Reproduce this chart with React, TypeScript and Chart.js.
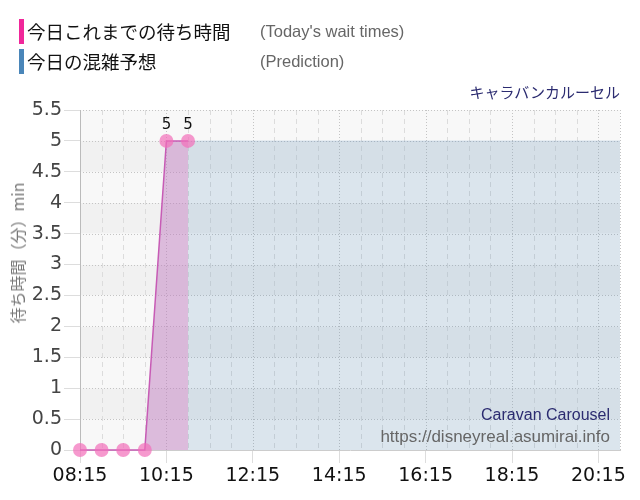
import React, { useEffect, useRef } from "react";
import { Chart, registerables } from "chart.js";
Chart.register(...registerables);

// ---- data ----
const waitTimes = ["08:15", "08:45", "09:15", "09:45", "10:15", "10:45"];
const waitValues = [0, 0, 0, 0, 5, 5];
const predictionTimes = ["10:45", "12:45", "14:45", "16:45", "18:45", "20:45"];
const predictionValues = [5, 5, 5, 5, 5, 5];
const xTickLabels = ["08:15", "10:15", "12:15", "14:15", "16:15", "18:15", "20:15"];
const xRange = ["08:15", "20:45"];
const yMax = 5.5;
const yStep = 0.5;

const toMin = (s: string) => {
  const [h, m] = s.split(":").map(Number);
  return h * 60 + m;
};
const fmt = (v: number) => {
  const h = Math.floor(v / 60);
  const m = v % 60;
  return String(h).padStart(2, "0") + ":" + String(m).padStart(2, "0");
};

const bgPlugin = {
  id: "bgGrid",
  beforeDraw(chart: any) {
    const { ctx, chartArea: a, scales } = chart;
    const y = scales.y;
    const x = scales.x;
    ctx.save();
    // bands
    for (let v = 0, i = 0; v < yMax - 1e-9; v += yStep, i++) {
      const top = y.getPixelForValue(v + yStep);
      const bot = y.getPixelForValue(v);
      ctx.fillStyle = i % 2 === 0 ? "#f8f8f8" : "#f1f1f1";
      ctx.fillRect(a.left, top, a.right - a.left, bot - top);
    }
    // vertical minor gridlines (every 30 min)
    const x0 = toMin(xRange[0]);
    const x1 = toMin(xRange[1]);
    const majors = xTickLabels.map(toMin);
    ctx.lineWidth = 1;
    for (let v = x0 + 30; v <= x1; v += 30) {
      const px = Math.round(x.getPixelForValue(v)) + 0.5;
      const isMajor = majors.includes(v) || v === x1;
      ctx.strokeStyle = isMajor ? "#c4c4c4" : "#dcdcdc";
      ctx.setLineDash(isMajor ? [1, 2] : [5, 4]);
      ctx.beginPath();
      ctx.moveTo(px, a.top);
      ctx.lineTo(px, a.bottom);
      ctx.stroke();
    }
    // horizontal dotted gridlines
    ctx.strokeStyle = "#c4c4c4";
    ctx.setLineDash([1, 2]);
    for (let v = yStep; v <= yMax + 1e-9; v += yStep) {
      const py = Math.round(y.getPixelForValue(v)) + 0.5;
      ctx.beginPath();
      ctx.moveTo(a.left, py);
      ctx.lineTo(a.right, py);
      ctx.stroke();
    }
    ctx.restore();
  },
};

const labelPlugin = {
  id: "valLabels",
  afterDatasetsDraw(chart: any) {
    const { ctx } = chart;
    const meta = chart.getDatasetMeta(0);
    ctx.save();
    ctx.font = "15px 'DejaVu Sans'";
    ctx.fillStyle = "#111";
    ctx.textAlign = "center";
    ctx.textBaseline = "alphabetic";
    meta.data.forEach((pt: any, i: number) => {
      const v = waitValues[i];
      if (v > 0) ctx.fillText(String(v), pt.x, pt.y - 12);
    });
    ctx.restore();
  },
};

export default function App() {
  const ref = useRef<HTMLCanvasElement>(null);
  useEffect(() => {
    document.body.style.margin = "0";
    const chart = new Chart(ref.current!, {
      type: "line",
      data: {
        datasets: [
          {
            label: "今日これまでの待ち時間",
            data: waitTimes.map((t, i) => ({ x: toMin(t), y: waitValues[i] })),
            borderColor: "#c75bb5",
            borderWidth: 1.5,
            backgroundColor: "rgba(190,120,190,0.47)",
            fill: "origin",
            pointRadius: 7,
            pointBackgroundColor: "rgba(242,110,185,0.7)",
            pointBorderWidth: 0,
            tension: 0,
            clip: false,
            order: 0,
          },
          {
            label: "今日の混雑予想",
            data: predictionTimes.map((t, i) => ({ x: toMin(t), y: predictionValues[i] })),
            borderColor: "rgba(70,130,180,0.15)",
            borderWidth: 1,
            backgroundColor: "rgba(70,130,180,0.16)",
            fill: "origin",
            pointRadius: 0,
            order: 1,
          },
        ],
      },
      options: {
        responsive: false,
        animation: false,
        layout: { padding: { top: 110, right: 20, left: 0, bottom: 0 } },
        plugins: { legend: { display: false }, tooltip: { enabled: false } },
        scales: {
          x: {
            type: "linear",
            min: toMin(xRange[0]),
            max: toMin(xRange[1]),
            afterBuildTicks: (s: any) => {
              s.ticks = xTickLabels.map((l) => ({ value: toMin(l) }));
            },
            afterFit: (s: any) => {
              s.height = 50;
            },
            ticks: {
              callback: (v: any) => fmt(Number(v)),
              autoSkip: false,
              maxRotation: 0,
              padding: 2,
              color: "#111",
              font: { family: "'DejaVu Sans'", size: 19 },
            },
            grid: { drawOnChartArea: false, tickLength: 13, tickColor: "#dddddd" },
            border: { color: "#cccccc" },
          },
          y: {
            min: 0,
            max: yMax,
            afterFit: (s: any) => {
              s.width = 80;
            },
            ticks: {
              stepSize: yStep,
              padding: 2,
              color: "#444",
              callback: (v: any) => String(Number(v)),
              font: { family: "'DejaVu Sans'", size: 19 },
            },
            grid: { drawOnChartArea: false, tickLength: 16, tickColor: "#dddddd" },
            border: { color: "#bbbbbb" },
          },
        },
      },
      plugins: [bgPlugin, labelPlugin],
    });
    return () => chart.destroy();
  }, []);

  const abs = (s: React.CSSProperties): React.CSSProperties => ({ position: "absolute", whiteSpace: "nowrap", ...s });
  const jp = "'Noto Sans CJK JP', sans-serif";
  const en = "'Liberation Sans', sans-serif";

  return (
    <div style={{ position: "absolute", left: 0, top: 0, width: 640, height: 500 }}>
      <canvas ref={ref} width={640} height={500} style={{ position: "absolute", left: 0, top: 0 }} />
      <div style={abs({ left: 19, top: 19, width: 5, height: 25, background: "#f0279a" })} />
      <div style={abs({ left: 19, top: 49, width: 5, height: 25, background: "#4a86b9" })} />
      <div style={abs({ left: 27, top: 31, transform: "translateY(-50%)", fontFamily: jp, fontSize: 18.5, color: "#111", lineHeight: 1 })}>今日これまでの待ち時間</div>
      <div style={abs({ left: 27, top: 61, transform: "translateY(-50%)", fontFamily: jp, fontSize: 18.5, color: "#111", lineHeight: 1 })}>今日の混雑予想</div>
      <div style={abs({ left: 260, top: 31, transform: "translateY(-50%)", fontFamily: en, fontSize: 16.5, color: "#666", lineHeight: 1 })}>(Today's wait times)</div>
      <div style={abs({ left: 260, top: 61, transform: "translateY(-50%)", fontFamily: en, fontSize: 16.5, color: "#666", lineHeight: 1 })}>(Prediction)</div>
      <div style={abs({ right: 20, top: 91, transform: "translateY(-50%)", fontFamily: jp, fontSize: 15, color: "#2b2b70", lineHeight: 1 })}>キャラバンカルーセル</div>
      <div style={abs({ right: 30, top: 415, transform: "translateY(-50%)", fontFamily: en, fontSize: 16, color: "#2b2b70", lineHeight: 1 })}>Caravan Carousel</div>
      <div style={abs({ right: 30, top: 436, transform: "translateY(-50%)", fontFamily: en, fontSize: 17, color: "#666", lineHeight: 1 })}>https://disneyreal.asumirai.info</div>
      <div style={abs({ left: 17, top: 253, transform: "translate(-50%,-50%) rotate(-90deg)", fontFamily: jp, fontSize: 16, color: "#777", lineHeight: 1 })}>待ち時間（分）min</div>
    </div>
  );
}
